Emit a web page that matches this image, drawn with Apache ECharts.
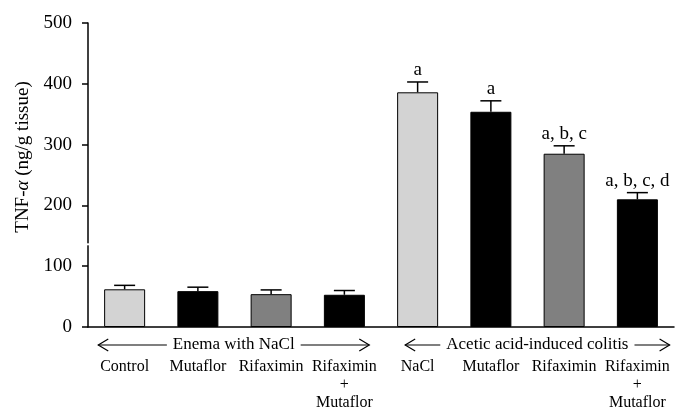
<!DOCTYPE html>
<html>
<head>
<meta charset="utf-8">
<script src="https://cdn.jsdelivr.net/npm/echarts@6/dist/echarts.min.js"></script>
<style>
  html, body { margin: 0; padding: 0; background: #fff; }
  #chart { width: 689px; height: 412px; }
</style>
</head>
<body>
<div id="chart"></div>
<script>
// values
const categories = ['Control', 'Mutaflor', 'Rifaximin', 'Rifaximin\n+\nMutaflor',
                    'NaCl', 'Mutaflor', 'Rifaximin', 'Rifaximin\n+\nMutaflor'];
const means = [62, 59, 54, 53, 386, 354, 285, 210];
const sem = [6.5, 6.5, 7, 7, 17, 18, 13, 11];
const letters = ['', '', '', '', 'a', 'a', 'a, b, c', 'a, b, c, d'];
const barColors = ['#d3d3d3', '#000000', '#808080', '#000000',
                   '#d3d3d3', '#000000', '#808080', '#000000'];
const groupNames = ['Enema with NaCl', 'Acetic acid-induced colitis'];
const groupStart = [0, 4];
const groupEnd = [3, 7];
const yTicks = [0, 100, 200, 300, 400, 500];
const axisBreakAt = 136;

const FONT = '"Liberation Serif", "DejaVu Serif", serif';

const chart = echarts.init(document.getElementById('chart'));

// error bars with the significance letters above them
function renderErrorBar(params, api) {
  const i = api.value(0);
  const top = api.coord([i, api.value(1) + api.value(2)]);
  const base = api.coord([i, api.value(1)]);
  const half = 10.5;
  const children = [
    { type: 'line', shape: { x1: base[0], y1: base[1], x2: top[0], y2: top[1] },
      style: { stroke: '#000', lineWidth: 1.5 } },
    { type: 'line', shape: { x1: top[0] - half, y1: top[1], x2: top[0] + half, y2: top[1] },
      style: { stroke: '#000', lineWidth: 1.5 } }
  ];
  const txt = letters[i];
  if (txt) {
    children.push({
      type: 'text',
      style: { text: txt, x: top[0], y: top[1] - 2, align: 'center', verticalAlign: 'bottom',
               font: '19px ' + FONT, fill: '#000' }
    });
  }
  return { type: 'group', children: children };
}

// group arrows under the x axis
function renderGroup(params, api) {
  const g = api.value(0);
  const cs = params.coordSys;
  const band = api.size([1, 0])[0];
  const a = api.coord([groupStart[g], 0]);
  const b = api.coord([groupEnd[g], 0]);
  const x1 = a[0] - band * (g === 0 ? 0.36 : 0.17);
  const x2 = b[0] + band * (g === 0 ? 0.34 : 0.44);
  const y = cs.y + cs.height + 18;
  const head = 10;
  return {
    type: 'group',
    children: [
      { type: 'line', shape: { x1: x1, y1: y, x2: x2, y2: y }, style: { stroke: '#000', lineWidth: 1.2 } },
      { type: 'polyline', shape: { points: [[x1 + head, y - 6], [x1, y], [x1 + head, y + 6]] },
        style: { stroke: '#000', lineWidth: 1.2, fill: null } },
      { type: 'polyline', shape: { points: [[x2 - head, y - 6], [x2, y], [x2 - head, y + 6]] },
        style: { stroke: '#000', lineWidth: 1.2, fill: null } },
      { type: 'text',
        style: { text: groupNames[g], x: (x1 + x2) / 2, y: y, align: 'center', verticalAlign: 'middle',
                 font: '17px ' + FONT, fill: '#000', backgroundColor: '#fff', padding: [0, 6] } }
    ]
  };
}

// small gap in the y axis line
function renderBreak(params, api) {
  const cs = params.coordSys;
  const p = api.coord([0, api.value(1)]);
  return { type: 'rect', shape: { x: cs.x - 2, y: p[1] - 1, width: 4, height: 2 },
           style: { fill: '#fff' } };
}

const option = {
  animation: false,
  backgroundColor: '#fff',
  grid: { left: 88, right: 15, top: 23, bottom: 85 },
  xAxis: {
    type: 'category',
    data: categories,
    axisLine: { lineStyle: { color: '#000', width: 1.5 } },
    axisTick: { show: false },
    axisLabel: { color: '#000', fontFamily: FONT, fontSize: 16, lineHeight: 18, margin: 31, interval: 0 }
  },
  yAxis: {
    type: 'value',
    min: yTicks[0],
    max: yTicks[yTicks.length - 1],
    interval: 100,
    name: '{n|TNF-}{i|α}{n| (ng/g tissue)}',
    nameLocation: 'middle',
    nameGap: 52,
    nameTextStyle: {
      padding: [0, 0, 0, 36],
      rich: {
        n: { fontFamily: FONT, fontSize: 19, color: '#000' },
        i: { fontFamily: FONT, fontSize: 19, color: '#000', fontStyle: 'italic' }
      }
    },
    splitLine: { show: false },
    axisLine: { show: true, lineStyle: { color: '#000', width: 1.5 } },
    axisTick: { show: true, length: 6, lineStyle: { color: '#000', width: 1.5 } },
    axisLabel: { color: '#000', fontFamily: FONT, fontSize: 19, margin: 16 }
  },
  series: [
    {
      type: 'bar',
      barWidth: 41,
      data: means.map((v, i) => ({ value: v, itemStyle: { color: barColors[i] } })),
      itemStyle: { borderColor: '#000', borderWidth: 1 },
      z: 3
    },
    {
      type: 'custom',
      renderItem: renderErrorBar,
      data: means.map((v, i) => [i, v, sem[i]]),
      z: 2
    },
    {
      type: 'custom',
      renderItem: renderGroup,
      data: groupNames.map((n, g) => [g, 0]),
      clip: false,
      silent: true,
      z: 4
    },
    {
      type: 'custom',
      renderItem: renderBreak,
      data: [[0, axisBreakAt]],
      clip: false,
      silent: true,
      z: 10
    }
  ]
};

chart.setOption(option);
</script>
</body>
</html>
